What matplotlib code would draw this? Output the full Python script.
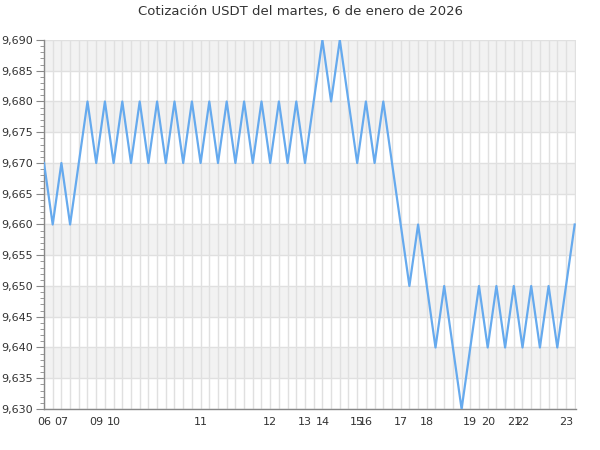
import numpy as np
import matplotlib.pyplot as plt
from matplotlib.ticker import MultipleLocator, FuncFormatter

# cotizacion USDT, una muestra por punto
prices = [9.670, 9.660, 9.670, 9.660, 9.670, 9.680, 9.670, 9.680, 9.670, 9.680,
          9.670, 9.680, 9.670, 9.680, 9.670, 9.680, 9.670, 9.680, 9.670, 9.680,
          9.670, 9.680, 9.670, 9.680, 9.670, 9.680, 9.670, 9.680, 9.670, 9.680,
          9.670, 9.680, 9.690, 9.680, 9.690, 9.680, 9.670, 9.680, 9.670, 9.680,
          9.670, 9.660, 9.650, 9.660, 9.650, 9.640, 9.650, 9.640, 9.630, 9.640,
          9.650, 9.640, 9.650, 9.640, 9.650, 9.640, 9.650, 9.640, 9.650, 9.640,
          9.650, 9.660]
tick_idx = [0, 2, 6, 8, 18, 26, 30, 32, 36, 37, 41, 44, 49, 51, 54, 55, 60]
tick_labels = ['06', '07', '09', '10', '11', '12', '13', '14', '15', '16',
               '17', '18', '19', '20', '21', '22', '23']

y_min, y_max, y_step = 9.630, 9.690, 0.005
title = 'Cotización USDT del martes, 6 de enero de 2026'

fig = plt.figure(figsize=(6, 4.5), dpi=100)
ax = fig.add_axes([44 / 600, 1 - 409 / 450, 532 / 600, 369 / 450])

x = np.arange(len(prices))

# alternating bands
edges = np.arange(y_min, y_max + y_step / 2, y_step)
for k in range(len(edges) - 1):
    if k % 2 == 1:
        ax.axhspan(edges[k], edges[k + 1], color='#f2f2f2', lw=0, zorder=0)

for xi in x:
    ax.axvline(xi, color='#e0e0e0', lw=1, zorder=1)
for e in edges:
    ax.axhline(e, color='#e0e0e0', lw=1, zorder=1)

ax.plot(x, prices, color='#66aaee', lw=1.6, zorder=3)

ax.set_xlim(0, len(prices) - 1 + 0.15)
ax.set_ylim(y_min, y_max)

ax.set_xticks(tick_idx)
ax.set_xticklabels(tick_labels)
ax.yaxis.set_major_locator(MultipleLocator(y_step))
ax.yaxis.set_minor_locator(MultipleLocator(0.001))
ax.yaxis.set_major_formatter(FuncFormatter(lambda v, p: f'{v:.3f}'.replace('.', ',')))

ax.tick_params(axis='x', length=0, labelsize=8, colors='#333333', pad=6)
ax.tick_params(axis='y', which='major', length=6, color='#888888',
               labelsize=8, labelcolor='#333333', pad=2)
ax.tick_params(axis='y', which='minor', length=3, color='#888888')

for side in ['top', 'right']:
    ax.spines[side].set_visible(False)
for side in ['left', 'bottom']:
    ax.spines[side].set_color('#888888')
    ax.spines[side].set_linewidth(1)

fig.suptitle(title, y=1 - 11 / 450, va='center', fontsize=9.5, color='#333333')

plt.savefig('out.png')
